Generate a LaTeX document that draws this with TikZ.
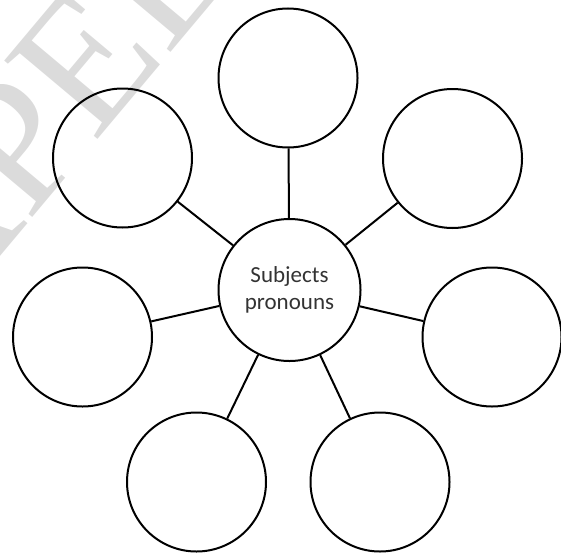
\documentclass[tikz,border=0pt]{standalone}
\usepackage{fontspec}
\setmainfont{Carlito}
\newfontfamily\wmfont{Liberation Serif}
\begin{document}
\begin{tikzpicture}[x=1pt,y=-1pt,
  bubble/.style={circle, draw=black, line width=2pt, minimum size=139pt, inner sep=0pt},
  hub/.style={bubble, minimum size=142pt, align=center, text=black!80,
    font=\fontsize{23}{27}\selectfont},
  link/.style={draw=black, line width=2pt}]
\useasboundingbox (0,0) rectangle (561,554);
\begin{scope}
  \clip (0,0) rectangle (561,554);
  \node[rotate=50, text=black!14, font=\wmfont\fontsize{186}{186}\selectfont, anchor=base west, inner sep=0pt] (wm) at (-58,326) {APELL};
\end{scope}
\node[hub] (c) at (289.5,290) {Subjects\\pronouns};
\node[bubble] (t) at (288,78) {};
\node[bubble] (ul) at (122.5,158) {};
\node[bubble] (ur) at (452.5,158.5) {};
\node[bubble] (l) at (82.5,337) {};
\node[bubble] (r) at (492,337) {};
\node[bubble] (bl) at (196.5,482) {};
\node[bubble] (br) at (380,482) {};
\foreach \n in {t,ul,ur,l,r,bl,br} \draw[link] (c) -- (\n);
\end{tikzpicture}
\end{document}
